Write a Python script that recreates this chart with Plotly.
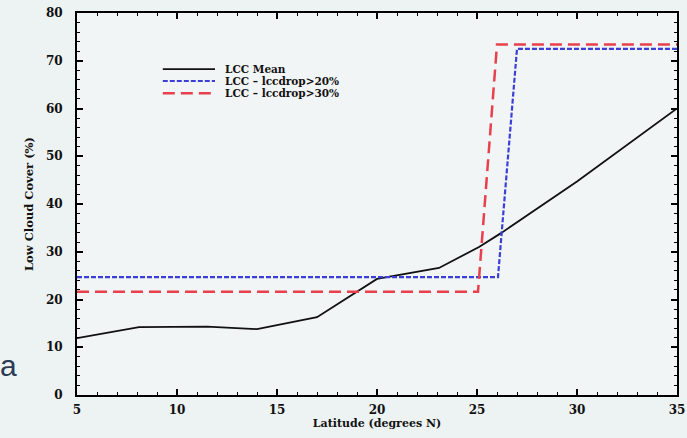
import plotly.graph_objects as go

lat_mean = [5, 8.1, 11.5, 14, 17, 20, 23.1, 25.1, 26.2, 30, 35]
lcc_mean = [11.9, 14.2, 14.3, 13.8, 16.3, 24.3, 26.6, 31, 33.9, 44.7, 60]

lat_20 = [5, 26.05, 27, 35]
lcc_20 = [24.7, 24.7, 72.5, 72.5]

lat_30 = [5, 25.05, 26, 35]
lcc_30 = [21.6, 21.6, 73.4, 73.4]

x_ticks = [5, 10, 15, 20, 25, 30, 35]
y_ticks = [0, 10, 20, 30, 40, 50, 60, 70, 80]

legend_names = ["LCC Mean", "LCC – lccdrop>20%", "LCC – lccdrop>30%"]
colors = ["#111111", "#3b3fd8", "#e8404c"]
dashes = ["solid", "5px,2px", "12px,6px"]
widths = [1.8, 2.2, 2.5]

font_serif = "DejaVu Serif"
bg = "#edf2f3"

fig = go.Figure()
for xs, ys, name, c, d, w in zip([lat_mean, lat_20, lat_30], [lcc_mean, lcc_20, lcc_30],
                                  legend_names, colors, dashes, widths):
    fig.add_trace(go.Scatter(x=xs, y=ys, mode="lines", name=name, showlegend=False,
                             line=dict(color=c, width=w, dash=d)))

axis_common = dict(showline=True, linecolor="black", linewidth=2, mirror="ticks",
                   ticks="inside", ticklen=6, tickwidth=1.5, tickcolor="black",
                   showgrid=False, zeroline=False, automargin=False,
                   ticklabeloverflow="allow",
                   tickfont=dict(family=font_serif, size=12, color="#111111"))

fig.update_xaxes(range=[5, 35], tickvals=x_ticks, ticktext=[f"<b>{v}</b>" for v in x_ticks],
                 ticklabelstandoff=3,
                 minor=dict(dtick=1, ticks="inside", ticklen=3, tickcolor="black", tickwidth=1.2),
                 title=dict(text="<b>Latitude (degrees N)</b>", standoff=3,
                            font=dict(family=font_serif, size=11, color="#111111")),
                 **axis_common)
fig.update_yaxes(range=[0, 80], tickvals=y_ticks, ticktext=[f"<b>{v}</b>" for v in y_ticks],
                 ticklabelstandoff=10,
                 minor=dict(dtick=2, ticks="inside", ticklen=3, tickcolor="black", tickwidth=1.2),
                 title=dict(text="<b>Low Cloud Cover (%)</b>", standoff=10,
                            font=dict(family=font_serif, size=11.5, color="#111111")),
                 **axis_common)

# manual legend (compact spacing like the reference)
leg_y = [0.853, 0.822, 0.79]
for name, c, d, w, yy in zip(legend_names, colors, dashes, widths, leg_y):
    fig.add_shape(type="line", xref="paper", yref="paper", x0=0.143, x1=0.23, y0=yy, y1=yy,
                  line=dict(color=c, width=w, dash=d))
    fig.add_annotation(text=f"<b>{name}</b>", xref="paper", yref="paper", x=0.243, y=yy,
                       xanchor="left", yanchor="middle", showarrow=False,
                       font=dict(family=font_serif, size=10.5, color="#111111"))

fig.add_annotation(text="a", x=-0.131, y=0.076, xref="paper", yref="paper", xanchor="left",
                   yanchor="middle", showarrow=False,
                   font=dict(family="Liberation Sans", size=30, color="#2b3a55"))

fig.update_layout(
    width=687, height=438,
    margin=dict(l=77, r=10, t=13, b=43),
    paper_bgcolor=bg,
    plot_bgcolor="#f1f5f5",
    showlegend=False,
)

fig.write_html("out.html", config={"displayModeBar": False},
               post_script=f"document.body.style.margin='0';document.body.style.background='{bg}';")
